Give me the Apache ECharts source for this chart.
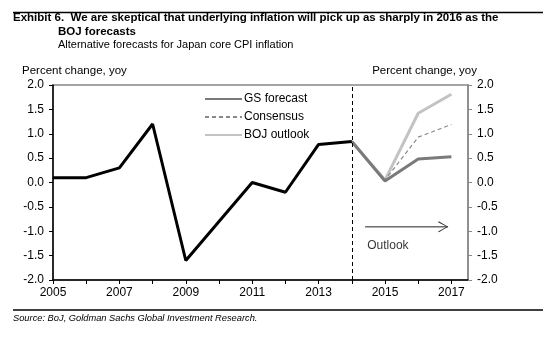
<!DOCTYPE html>
<html><head><meta charset="utf-8">
<script src="https://cdn.jsdelivr.net/npm/echarts@6/dist/echarts.min.js"></script>
<style>html,body{margin:0;padding:0;background:#fff}#c{width:543px;height:340px}</style>
</head><body><div id="c"></div>
<script>
const years = [2005,2006,2007,2008,2009,2010,2011,2012,2013,2014,2015,2016,2017];
const actual    = [0.1,0.1,0.3,1.2,-1.6,-0.8,0.0,-0.2,0.78,0.84,null,null,null];
const gsForecast= [null,null,null,null,null,null,null,null,null,0.84,0.03,0.48,0.53];
const consensus = [null,null,null,null,null,null,null,null,null,0.84,0.05,0.93,1.19];
const bojOutlook= [null,null,null,null,null,null,null,null,null,0.84,0.05,1.42,1.81];
const yTicks = [-2.0,-1.5,-1.0,-0.5,0.0,0.5,1.0,1.5,2.0];
const outlookArrow = [[2014.4,-0.91],[2016.9,-0.91]];
const outlookLabel = [2014.45,-1.3];

const pairs = arr => years.map((y,i)=>[y,arr[i]]).filter(p=>p[1]!==null);
const font = 'Liberation Sans, Arial, sans-serif';
const chart = echarts.init(document.getElementById('c'));
const yAxisBase = {
  type:'value', min:yTicks[0], max:yTicks[yTicks.length-1], interval:0.5,
  splitLine:{show:false},
  axisLabel:{fontFamily:font,fontSize:12,color:'#000',formatter:v=>v.toFixed(1),margin:9},
  axisTick:{show:true,length:4}
};
const chevron = 'path://M0,0.9 L0.9,0 L12,6 L0.9,12 L0,11.1 L10.4,6 Z';
chart.setOption({
  animation:false,
  textStyle:{fontFamily:font},
  grid:{left:53,right:75,top:85,bottom:60,show:true,borderColor:'#888',borderWidth:1.5},
  xAxis:{type:'value',min:2005,max:2017.5,interval:1,
    axisLine:{onZero:false,lineStyle:{color:'#000',width:1.5}},
    axisTick:{show:true,length:4,lineStyle:{color:'#000'}},
    splitLine:{show:false},
    axisLabel:{fontFamily:font,fontSize:12,color:'#000',margin:7,showMaxLabel:false,
      formatter:v=> (Number.isInteger(v) && (v-2005)%2===0) ? String(v) : ''}},
  yAxis:[
    Object.assign({},yAxisBase,{position:'left',
      axisLine:{show:true,onZero:false,lineStyle:{color:'#000',width:1.5}},
      axisTick:{show:true,length:4,lineStyle:{color:'#000'}}}),
    Object.assign({},yAxisBase,{position:'right',
      axisLine:{show:true,onZero:false,lineStyle:{color:'#888',width:1.5}},
      axisTick:{show:true,length:4,lineStyle:{color:'#888'}}})
  ],
  legend:{left:199,top:88,orient:'vertical',itemWidth:37,itemHeight:12,itemGap:6,
    itemStyle:{opacity:0},
    textStyle:{fontFamily:font,fontSize:12,color:'#000',padding:[0,0,0,-3]},
    data:['GS forecast','Consensus','BOJ outlook']},
  series:[
    {name:'BOJ outlook',type:'line',data:pairs(bojOutlook),symbol:'none',
      lineStyle:{color:'#c3c3c3',width:3},itemStyle:{color:'#c3c3c3'}},
    {name:'Consensus',type:'line',data:pairs(consensus),symbol:'none',
      lineStyle:{color:'#888',width:1.2,type:[4,3]},itemStyle:{color:'#888'}},
    {name:'GS forecast',type:'line',data:pairs(gsForecast),symbol:'none',
      lineStyle:{color:'#7a7a7a',width:3},itemStyle:{color:'#7a7a7a'}},
    {name:'Actual',type:'line',data:pairs(actual),symbol:'none',
      lineStyle:{color:'#000',width:3},itemStyle:{color:'#000'},
      markLine:{silent:true,symbol:'none',label:{show:false},
        lineStyle:{color:'#000',type:[4,3],width:1},
        data:[{xAxis:2014}]}},
    {name:'arrowLine',type:'line',data:outlookArrow,symbol:'none',silent:true,
      lineStyle:{color:'#222',width:1}},
    {name:'arrowHead',type:'scatter',silent:true,symbol:chevron,symbolSize:[10,11],
      symbolOffset:[-5,0],itemStyle:{color:'#000'},
      data:[outlookArrow[1]]},
    {name:'outlookText',type:'scatter',silent:true,symbol:'rect',symbolSize:1,
      itemStyle:{color:'rgba(0,0,0,0)'},
      label:{show:true,position:'right',formatter:'Outlook',fontFamily:font,fontSize:12,color:'#000',distance:0},
      data:[outlookLabel]}
  ],
  graphic:[
    {type:'line',shape:{x1:13,y1:12.5,x2:543,y2:12.5},style:{stroke:'#000',lineWidth:1.5}},
    {type:'text',left:13,top:12,style:{text:'Exhibit 6.  We are skeptical that underlying inflation will pick up as sharply in 2016 as the',font:'bold 11.5px '+font,fill:'#000'}},
    {type:'text',left:58,top:26,style:{text:'BOJ forecasts',font:'bold 11.5px '+font,fill:'#000'}},
    {type:'text',left:58,top:39,style:{text:'Alternative forecasts for Japan core CPI inflation',font:'11px '+font,fill:'#000'}},
    {type:'text',left:22,top:65,style:{text:'Percent change, yoy',font:'11.5px '+font,fill:'#000'}},
    {type:'text',right:66,top:65,style:{text:'Percent change, yoy',font:'11.5px '+font,fill:'#000'}},
    {type:'line',shape:{x1:13,y1:310,x2:543,y2:310},style:{stroke:'#000',lineWidth:1.5}},
    {type:'text',left:13,top:314,style:{text:'Source: BoJ, Goldman Sachs Global Investment Research.',font:'italic 9.3px '+font,fill:'#000'}}
  ]
});
</script></body></html>
